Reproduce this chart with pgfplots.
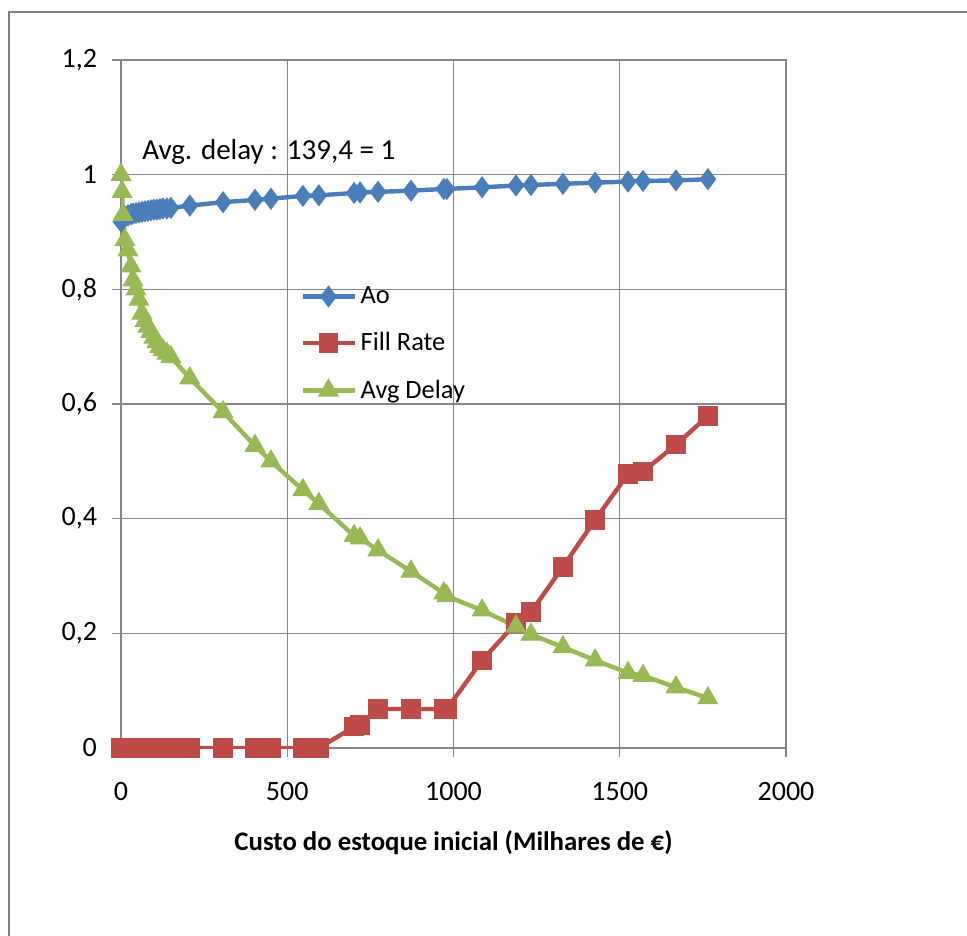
\documentclass[border=0pt]{standalone}
\usepackage{fontspec}
\setmainfont{Carlito}
\usepackage{pgfplots}
\pgfplotsset{compat=1.18}
\usepackage{pgfplotstable}
\definecolor{aoblue}{RGB}{74,126,187}
\definecolor{frred}{RGB}{190,75,72}
\definecolor{adgreen}{RGB}{152,185,84}
\definecolor{gridgray}{RGB}{134,134,134}

\pgfplotstableread{
x ao fr ad
0 0.918 0 1.000
3 0.921 0 0.970
6 0.924 0 0.930
12 0.927 0 0.886
21 0.929 0 0.868
30 0.931 0 0.840
36 0.932 0 0.816
45 0.933 0 0.800
54 0.934 0 0.782
63 0.935 0 0.758
72 0.936 0 0.745
81 0.937 0 0.735
90 0.938 0 0.726
99 0.939 0 0.716
108 0.939 0 0.708
117 0.940 0 0.700
126 0.941 0 0.694
138 0.941 0 0.688
150 0.942 0 0.682
207 0.946 0 0.645
307 0.952 0 0.586
403 0.956 0 0.527
451 0.958 0 0.500
547 0.963 0 0.450
595 0.964 0 0.426
701 0.968 0.037 0.370
719 0.969 0.040 0.366
773 0.970 0.068 0.345
872 0.972 0.068 0.308
971 0.975 0.068 0.270
980 0.975 0.068 0.265
1086 0.978 0.153 0.240
1188 0.981 0.218 0.212
1233 0.982 0.237 0.198
1329 0.984 0.316 0.176
1426 0.986 0.398 0.153
1525 0.988 0.478 0.131
1570 0.989 0.482 0.126
1669 0.990 0.529 0.106
1765 0.992 0.579 0.087
}\data

\begin{document}
\begin{tikzpicture}
\useasboundingbox (-60.5pt,-93.5pt) rectangle (423pt,374pt);
\draw[color=gray, line width=1pt] (-56pt,-95pt) -- (-56pt,368pt) -- (425pt,368pt);
\begin{axis}[
  scale only axis, width=332.5pt, height=344pt,
  xmin=0, xmax=2000, ymin=0, ymax=1.2,
  xtick={0,500,1000,1500,2000},
  ytick={0,0.2,0.4,0.6,0.8,1,1.2},
  grid=major, grid style={gridgray, line width=0.6pt},
  axis line style={gridgray, line width=0.6pt},
  tick style={gridgray, line width=0.6pt},
  tick align=outside, tick pos=left, major tick length=4.5pt,
  /pgf/number format/assume math mode=true,
  /pgf/number format/fixed,
  /pgf/number format/use comma,
  /pgf/number format/precision=1,
  /pgf/number format/1000 sep={},
  ticklabel style={font=\fontsize{14}{16}\selectfont, text=black},
  xticklabel style={yshift=-9pt},
  yticklabel style={xshift=-4pt},
  xlabel={Custo do estoque inicial (Milhares de €)},
  xlabel style={font=\fontsize{13.4}{16}\selectfont\bfseries, at={(axis description cs:0.5,0)}, anchor=center, yshift=-47.5pt},
  legend style={draw=none, fill=none, at={(0.26,0.683)}, anchor=north west, font=\fontsize{13.2}{15}\selectfont, row sep=9pt, cells={anchor=west}},
  legend image code/.code={\draw[mark repeat=2,mark phase=2] plot coordinates {(0pt,0pt)(13pt,0pt)(26pt,0pt)};},
]
\addplot[color=aoblue, line width=2.2pt, mark=diamond*, mark size=5pt, mark options={solid, fill=aoblue, draw=aoblue, line width=0.7pt}] table[x=x,y=ao]{\data};
\addlegendentry{Ao}
\addplot[color=frred, line width=2.2pt, mark=square*, mark size=4.6pt, mark options={solid, fill=frred, draw=frred, line width=0.5pt}] table[x=x,y=fr]{\data};
\addlegendentry{Fill Rate}
\addplot[color=adgreen, line width=2.2pt, mark=triangle*, mark size=5.6pt, mark options={solid, fill=adgreen, draw=adgreen, line width=0.5pt}] table[x=x,y=ad]{\data};
\addlegendentry{Avg Delay}
\node[anchor=west, font=\fontsize{14.5}{17}\selectfont] at (axis cs:43,1.04) {Avg. delay : 139,4 = 1};
\end{axis}
\end{tikzpicture}
\end{document}
